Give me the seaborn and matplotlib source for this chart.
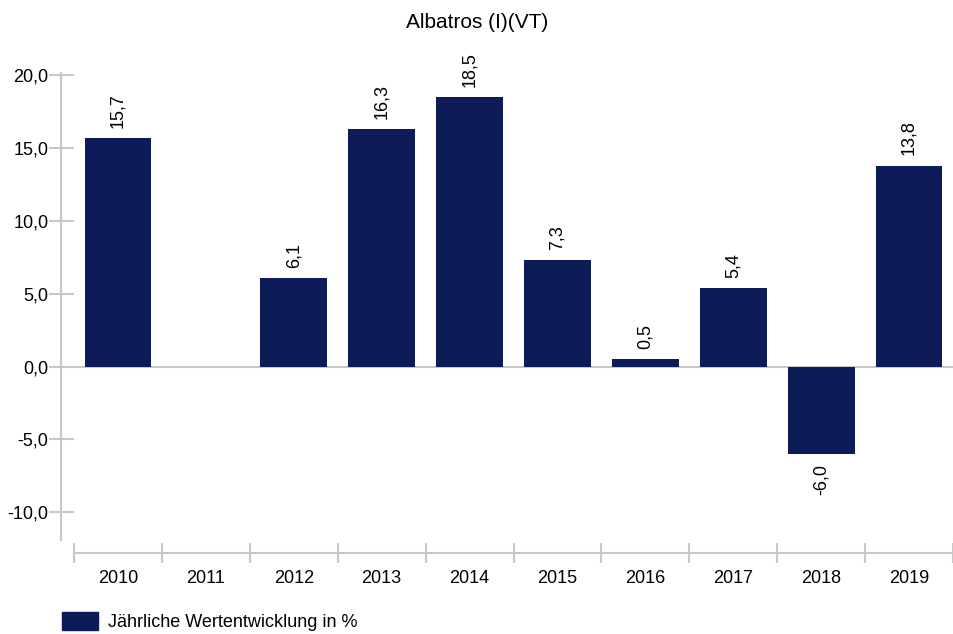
import matplotlib
matplotlib.use("Agg")
import matplotlib.pyplot as plt
import seaborn as sns
import pandas as pd
from matplotlib.ticker import FuncFormatter, FixedLocator
from matplotlib.patches import Patch

# Werte
jahre = ["2010", "2011", "2012", "2013", "2014", "2015", "2016", "2017", "2018", "2019"]
werte = [15.7, None, 6.1, 16.3, 18.5, 7.3, 0.5, 5.4, -6.0, 13.8]
titel = "Albatros (I)(VT)"
legende = "Jährliche Wertentwicklung in %"
y_ticks = [-10, -5, 0, 5, 10, 15, 20]

farbe = "#0d1c59"
grau = "#c8c8c8"
fs = 13

sns.set_style("white")
plt.rcParams["font.family"] = ["Liberation Sans", "DejaVu Sans"]
plt.rcParams["text.color"] = "black"
plt.rcParams["xtick.labelcolor"] = "black"
plt.rcParams["ytick.labelcolor"] = "black"

df = pd.DataFrame({"Jahr": jahre, "Wert": werte}).dropna()

fig = plt.figure(figsize=(9.54, 6.34), dpi=100)
ax = fig.add_axes([74 / 954, (634 - 540) / 634, 1 - 74 / 954 - 0.001, (540 - 73) / 634])

sns.barplot(data=df, x="Jahr", y="Wert", order=jahre, color=farbe,
            width=0.76, saturation=1, linewidth=0, ax=ax, zorder=3)

ax.set_xlim(-0.5, len(jahre) - 0.5)
ax.set_ylim(-11.9, 20.15)
ax.axhline(0, color=grau, lw=1.5, zorder=2)

komma = lambda v: f"{v:.1f}".replace(".", ",")

# Werte an die Balken schreiben
for i, j in enumerate(jahre):
    v = werte[i]
    if v is None:
        continue
    if v >= 0:
        ax.text(i, v + 0.7, komma(v), rotation=90, ha="center", va="bottom",
                fontsize=fs, clip_on=False)
    else:
        ax.text(i, v - 0.7, komma(v), rotation=90, ha="center", va="top",
                fontsize=fs, clip_on=False)

# Achsen
for s in ["top", "right"]:
    ax.spines[s].set_visible(False)
ax.spines["left"].set_position(("outward", 9.4))
ax.spines["bottom"].set_position(("outward", 9.4))
for s in ["left", "bottom"]:
    ax.spines[s].set_color(grau)
    ax.spines[s].set_linewidth(1.5)

ax.yaxis.set_major_locator(FixedLocator(y_ticks))
ax.yaxis.set_major_formatter(FuncFormatter(lambda v, p: komma(v)))
ax.tick_params(axis="y", direction="inout", length=18, width=1.5, color=grau,
               labelsize=fs, pad=0, left=True)

ax.set_xticks(range(len(jahre)))
ax.set_xticklabels(jahre)
ax.set_xticks([k - 0.5 for k in range(len(jahre) + 1)], minor=True)
ax.tick_params(axis="x", which="major", length=0, labelsize=fs, pad=12)
ax.tick_params(axis="x", which="minor", direction="inout", length=14.5, width=1.5,
               color=grau, bottom=True)

ax.set_xlabel("")
ax.set_ylabel("")
ax.grid(False)

fig.text(0.5, 1 - 22 / 634, titel, ha="center", va="center", fontsize=15)

# Legende
fig.legend(handles=[Patch(color=farbe, label=legende)], loc="lower left",
           bbox_to_anchor=(62 / 954, 3 / 634), frameon=False, fontsize=fs,
           handlelength=2.0, handleheight=1.1, handletextpad=0.55,
           borderpad=0, borderaxespad=0)

fig.savefig("out.png", dpi=100)
